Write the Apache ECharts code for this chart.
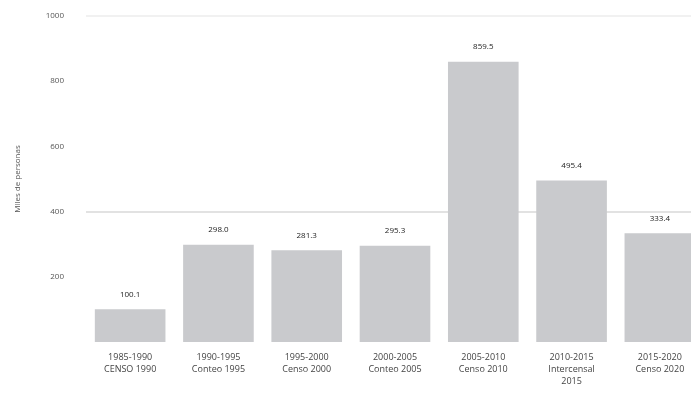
<!DOCTYPE html>
<html>
<head>
<meta charset="utf-8">
<script src="https://cdn.jsdelivr.net/npm/echarts@6/dist/echarts.min.js"></script>
<style>html,body{margin:0;padding:0;background:#fff;}#c{width:691px;height:395px;}</style>
</head>
<body>
<div id="c"></div>
<script>
var categories = ['1985-1990\nCENSO 1990', '1990-1995\nConteo 1995', '1995-2000\nCenso 2000', '2000-2005\nConteo 2005', '2005-2010\nCenso 2010', '2010-2015\nIntercensal\n2015', '2015-2020\nCenso 2020'];
var values = [100.1, 298.0, 281.3, 295.3, 859.5, 495.4, 333.4];
var yTicks = [200, 400, 600, 800, 1000];
var yTitle = 'Miles de personas';

var chart = echarts.init(document.getElementById('c'));
chart.setOption({
  animation: false,
  backgroundColor: '#ffffff',
  grid: { left: 86, width: 618, top: 16, bottom: 53, outerBoundsMode: 'none', containLabel: false },
  xAxis: {
    type: 'category',
    data: categories,
    axisLine: { show: false },
    axisTick: { show: false },
    axisLabel: { color: '#444', fontSize: 9, fontFamily: 'Open Sans', lineHeight: 12, margin: 9, interval: 0 }
  },
  yAxis: {
    type: 'value',
    min: 0, max: 1000, interval: 200,
    name: yTitle,
    nameLocation: 'middle',
    nameGap: 64,
    nameTextStyle: { color: '#555', fontSize: 8, fontFamily: 'Open Sans' },
    axisLine: { show: false },
    axisTick: { show: false },
    axisLabel: {
      color: '#555', fontSize: 8, fontFamily: 'Open Sans', margin: 22,
      formatter: function (v) { return yTicks.indexOf(v) >= 0 ? String(v) : ''; }
    },
    splitLine: { show: true, lineStyle: { color: ['transparent', 'transparent', '#d9d9d9', 'transparent', 'transparent', '#ececec'], width: 1.5 } }
  },
  series: [{
    type: 'bar',
    data: values,
    barCategoryGap: '20%',
    itemStyle: { color: '#c9cacd' },
    label: {
      show: true, position: 'top', distance: 11,
      color: '#222', fontSize: 8, fontFamily: 'Open Sans',
      formatter: function (p) { return p.value.toFixed(1); }
    }
  }]
});
</script>
</body>
</html>
